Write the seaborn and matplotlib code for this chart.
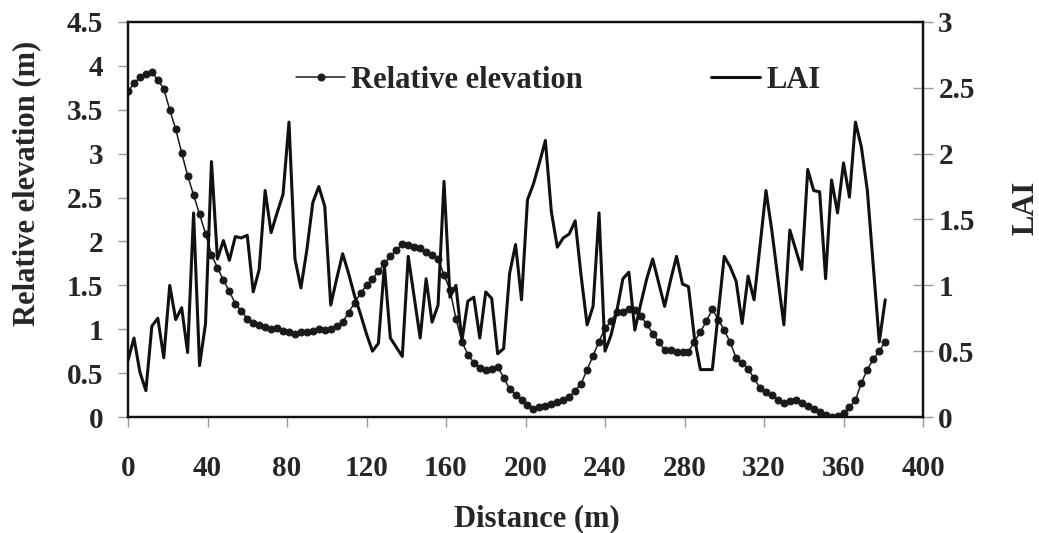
import matplotlib
matplotlib.use("Agg")
import matplotlib.pyplot as plt
from matplotlib.ticker import MultipleLocator, FuncFormatter
import seaborn as sns
import pandas as pd

# Transect sampling positions (m)
distance = [
    0, 3, 6, 9, 12, 15, 18, 21, 24, 27, 30, 33, 36, 39, 42, 45, 48, 51, 54, 57,
    60, 63, 66, 69, 72, 75, 78, 81, 84, 87, 90, 93, 96, 99, 102, 105, 108, 111,
    114, 117, 120, 123, 126, 129, 132, 135, 138, 141, 144, 147, 150, 153, 156,
    159, 162, 165, 168, 171, 174, 177, 180, 183, 186, 189, 192, 195, 198, 201,
    204, 207, 210, 213, 216, 219, 222, 225, 228, 231, 234, 237, 240, 243, 246,
    249, 252, 255, 258, 261, 264, 267, 270, 273, 276, 279, 282, 285, 288, 291,
    294, 297, 300, 303, 306, 309, 312, 315, 318, 321, 324, 327, 330, 333, 336,
    339, 342, 345, 348, 351, 354, 357, 360, 363, 366, 369, 372, 375, 378, 381,
]

# Relative elevation along the transect (m)
elevation = [
    3.71, 3.80, 3.87, 3.91, 3.93, 3.84, 3.74, 3.50, 3.28, 3.01, 2.75, 2.53,
    2.31, 2.09, 1.85, 1.70, 1.56, 1.43, 1.29, 1.21, 1.12, 1.07, 1.05, 1.02,
    1.00, 1.01, 0.98, 0.97, 0.95, 0.97, 0.97, 0.98, 1.00, 0.99, 1.00, 1.04,
    1.08, 1.19, 1.30, 1.41, 1.50, 1.57, 1.66, 1.75, 1.83, 1.90, 1.97, 1.96,
    1.94, 1.92, 1.88, 1.85, 1.80, 1.62, 1.45, 1.12, 0.86, 0.71, 0.62, 0.56,
    0.54, 0.55, 0.57, 0.45, 0.32, 0.25, 0.19, 0.14, 0.09, 0.11, 0.13, 0.15,
    0.17, 0.19, 0.23, 0.30, 0.38, 0.54, 0.70, 0.86, 1.01, 1.09, 1.20, 1.20,
    1.23, 1.22, 1.15, 1.06, 0.95, 0.86, 0.76, 0.76, 0.74, 0.74, 0.74, 0.86,
    0.97, 1.09, 1.23, 1.11, 0.99, 0.85, 0.67, 0.61, 0.55, 0.44, 0.33, 0.29,
    0.25, 0.19, 0.16, 0.18, 0.19, 0.16, 0.12, 0.09, 0.06, 0.02, 0.00, 0.01,
    0.04, 0.11, 0.19, 0.39, 0.54, 0.66, 0.75, 0.86,
]

# Leaf area index at the same positions
lai = [
    0.43, 0.60, 0.34, 0.20, 0.69, 0.75, 0.45, 1.00, 0.74, 0.83, 0.49, 1.55,
    0.39, 0.71, 1.94, 1.20, 1.34, 1.19, 1.37, 1.36, 1.38, 0.95, 1.12, 1.72,
    1.40, 1.55, 1.69, 2.24, 1.20, 0.98, 1.27, 1.63, 1.75, 1.60, 0.85, 1.05,
    1.24, 1.09, 0.92, 0.78, 0.63, 0.50, 0.56, 1.15, 0.60, 0.53, 0.46, 1.22,
    0.91, 0.60, 1.05, 0.72, 0.85, 1.79, 0.91, 1.00, 0.58, 0.88, 0.91, 0.60,
    0.95, 0.90, 0.48, 0.52, 1.09, 1.31, 0.89, 1.65, 1.77, 1.93, 2.10, 1.56,
    1.29, 1.36, 1.39, 1.49, 1.07, 0.70, 0.84, 1.55, 0.50, 0.62, 0.81, 1.05,
    1.10, 0.66, 0.86, 1.05, 1.20, 1.02, 0.84, 1.04, 1.22, 1.01, 0.99, 0.60,
    0.36, 0.36, 0.36, 0.79, 1.22, 1.14, 1.03, 0.71, 1.07, 0.89, 1.30, 1.72,
    1.41, 1.05, 0.70, 1.42, 1.27, 1.12, 1.88, 1.72, 1.71, 1.05, 1.80, 1.55,
    1.93, 1.67, 2.24, 2.05, 1.72, 1.15, 0.57, 0.89,
]

x_ticks = [0, 40, 80, 120, 160, 200, 240, 280, 320, 360, 400]

df = pd.DataFrame({"Distance": distance, "Elevation": elevation, "LAI": lai})

sns.set_style("white")
plt.rcParams["font.family"] = ["Liberation Serif", "DejaVu Serif"]
plt.rcParams["font.weight"] = "bold"

fig = plt.figure(figsize=(10.39, 5.33), dpi=100)
ax = fig.add_axes([128 / 1039, 1 - 417 / 533, 795 / 1039, 395 / 533])
ax2 = ax.twinx()

sns.lineplot(data=df, x="Distance", y="Elevation", ax=ax, color="#1a1a1a",
             linewidth=1.1, marker="o", markersize=5, markeredgecolor="#1a1a1a",
             markerfacecolor="#1a1a1a", label="Relative elevation", legend=False)
sns.lineplot(data=df, x="Distance", y="LAI", ax=ax2, color="#111111",
             linewidth=2.2, label="LAI", legend=False)

ax.set_xlim(0, 400)
ax.set_ylim(0, 4.5)
ax2.set_ylim(0, 3)
ax.set_xticks(x_ticks)
ax.yaxis.set_major_locator(MultipleLocator(0.5))
ax2.yaxis.set_major_locator(MultipleLocator(0.5))
fmt = FuncFormatter(lambda v, p: f"{v:g}")
ax.yaxis.set_major_formatter(fmt)
ax2.yaxis.set_major_formatter(fmt)

for a in (ax, ax2):
    for s in a.spines.values():
        s.set_color("#111111")
        s.set_linewidth(1.6)

tick_col = "#9a9a9a"
ax.tick_params(axis="x", direction="out", length=7, width=1, color=tick_col,
               labelsize=21, pad=20, bottom=True)
ax.tick_params(axis="y", direction="out", length=7, width=1, color=tick_col,
               labelsize=21, pad=11, left=True)
ax2.tick_params(axis="y", direction="inout", length=14, width=1, color=tick_col,
                labelsize=21, pad=4, right=True)
for lab in ax.get_xticklabels() + ax.get_yticklabels() + ax2.get_yticklabels():
    lab.set_fontweight("bold")

ax.set_xlabel("Distance (m)", fontsize=22, fontweight="bold")
ax.set_ylabel("Relative elevation (m)", fontsize=22, fontweight="bold")
ax2.set_ylabel("LAI", fontsize=22, fontweight="bold")
ax.xaxis.label.set_va("center")
ax.xaxis.set_label_coords(0.514, -0.258)
ax.yaxis.label.set(va="center", ha="center")
ax.yaxis.set_label_coords(-0.127, 0.592)
ax2.yaxis.label.set(va="center", ha="center")
ax2.yaxis.set_label_coords(1.129, 0.529)

h1, l1 = ax.get_legend_handles_labels()
h2, l2 = ax2.get_legend_handles_labels()
leg = ax2.legend(h1 + h2, l1 + l2, loc="center", bbox_to_anchor=(0.5415, 0.853),
                 ncol=2, frameon=False, handlelength=1.6, handletextpad=0.2,
                 columnspacing=4.2, prop={"family": "Liberation Serif",
                                          "weight": "bold", "size": 22})

fig.savefig("out.png", dpi=100, facecolor="white")
